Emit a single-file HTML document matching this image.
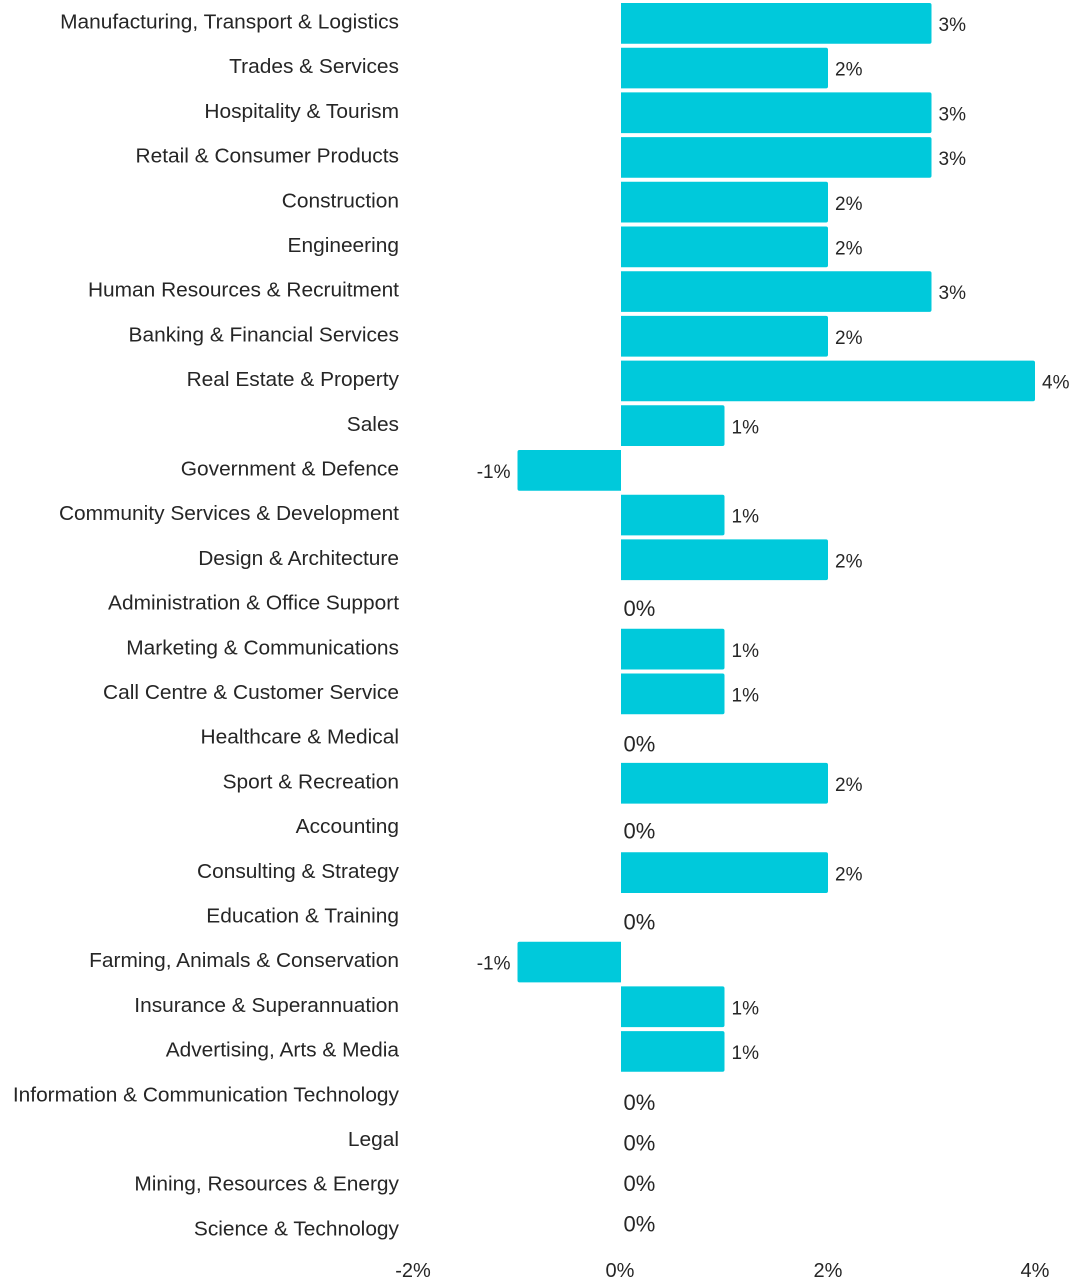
<!DOCTYPE html>
<html>
<head>
<meta charset="utf-8">
<style>
  html, body { margin: 0; padding: 0; background: #ffffff; }
  body { width: 1076px; height: 1280px; overflow: hidden; }
  svg { display: block; }
  text { font-family: "Liberation Sans", Arial, sans-serif; fill: #262626; }
</style>
</head>
<body>
<svg width="1076" height="1280" viewBox="0 0 1076 1280" xmlns="http://www.w3.org/2000/svg">
  <g fill="#00C9DB">
    <path d="M621 3 H929.5 Q931.5 3 931.5 5 V41.7 Q931.5 43.7 929.5 43.7 H621 Z"/>
    <path d="M621 47.7 H826 Q828 47.7 828 49.7 V86.4 Q828 88.4 826 88.4 H621 Z"/>
    <path d="M621 92.4 H929.5 Q931.5 92.4 931.5 94.4 V131.1 Q931.5 133.1 929.5 133.1 H621 Z"/>
    <path d="M621 137.1 H929.5 Q931.5 137.1 931.5 139.1 V175.8 Q931.5 177.8 929.5 177.8 H621 Z"/>
    <path d="M621 181.8 H826 Q828 181.8 828 183.8 V220.5 Q828 222.5 826 222.5 H621 Z"/>
    <path d="M621 226.5 H826 Q828 226.5 828 228.5 V265.2 Q828 267.2 826 267.2 H621 Z"/>
    <path d="M621 271.2 H929.5 Q931.5 271.2 931.5 273.2 V309.9 Q931.5 311.9 929.5 311.9 H621 Z"/>
    <path d="M621 315.9 H826 Q828 315.9 828 317.9 V354.6 Q828 356.6 826 356.6 H621 Z"/>
    <path d="M621 360.6 H1033 Q1035 360.6 1035 362.6 V399.3 Q1035 401.3 1033 401.3 H621 Z"/>
    <path d="M621 405.3 H722.5 Q724.5 405.3 724.5 407.3 V444 Q724.5 446 722.5 446 H621 Z"/>
    <path d="M621 450 H519.5 Q517.5 450 517.5 452 V488.7 Q517.5 490.7 519.5 490.7 H621 Z"/>
    <path d="M621 494.7 H722.5 Q724.5 494.7 724.5 496.7 V533.4 Q724.5 535.4 722.5 535.4 H621 Z"/>
    <path d="M621 539.4 H826 Q828 539.4 828 541.4 V578.1 Q828 580.1 826 580.1 H621 Z"/>
    <path d="M621 628.8 H722.5 Q724.5 628.8 724.5 630.8 V667.5 Q724.5 669.5 722.5 669.5 H621 Z"/>
    <path d="M621 673.5 H722.5 Q724.5 673.5 724.5 675.5 V712.2 Q724.5 714.2 722.5 714.2 H621 Z"/>
    <path d="M621 762.9 H826 Q828 762.9 828 764.9 V801.6 Q828 803.6 826 803.6 H621 Z"/>
    <path d="M621 852.3 H826 Q828 852.3 828 854.3 V891 Q828 893 826 893 H621 Z"/>
    <path d="M621 941.7 H519.5 Q517.5 941.7 517.5 943.7 V980.4 Q517.5 982.4 519.5 982.4 H621 Z"/>
    <path d="M621 986.4 H722.5 Q724.5 986.4 724.5 988.4 V1025.1 Q724.5 1027.1 722.5 1027.1 H621 Z"/>
    <path d="M621 1031.1 H722.5 Q724.5 1031.1 724.5 1033.1 V1069.8 Q724.5 1071.8 722.5 1071.8 H621 Z"/>
  </g>

  <g transform="translate(399 0) scale(1.045 1)" font-size="20" text-anchor="end">
    <text x="0" y="28.5">Manufacturing, Transport &amp; Logistics</text>
    <text x="0" y="73.2">Trades &amp; Services</text>
    <text x="0" y="117.9">Hospitality &amp; Tourism</text>
    <text x="0" y="162.6">Retail &amp; Consumer Products</text>
    <text x="0" y="207.3">Construction</text>
    <text x="0" y="252">Engineering</text>
    <text x="0" y="296.7">Human Resources &amp; Recruitment</text>
    <text x="0" y="341.4">Banking &amp; Financial Services</text>
    <text x="0" y="386.1">Real Estate &amp; Property</text>
    <text x="0" y="430.8">Sales</text>
    <text x="0" y="475.5">Government &amp; Defence</text>
    <text x="0" y="520.2">Community Services &amp; Development</text>
    <text x="0" y="564.9">Design &amp; Architecture</text>
    <text x="0" y="609.6">Administration &amp; Office Support</text>
    <text x="0" y="654.3">Marketing &amp; Communications</text>
    <text x="0" y="699">Call Centre &amp; Customer Service</text>
    <text x="0" y="743.7">Healthcare &amp; Medical</text>
    <text x="0" y="788.4">Sport &amp; Recreation</text>
    <text x="0" y="833.1">Accounting</text>
    <text x="0" y="877.8">Consulting &amp; Strategy</text>
    <text x="0" y="922.5">Education &amp; Training</text>
    <text x="0" y="967.2">Farming, Animals &amp; Conservation</text>
    <text x="0" y="1011.9">Insurance &amp; Superannuation</text>
    <text x="0" y="1056.6">Advertising, Arts &amp; Media</text>
    <text x="0" y="1101.3">Information &amp; Communication Technology</text>
    <text x="0" y="1146">Legal</text>
    <text x="0" y="1190.7">Mining, Resources &amp; Energy</text>
    <text x="0" y="1235.4">Science &amp; Technology</text>
  </g>

  <g font-size="19">
    <text x="938.5" y="31">3%</text>
    <text x="835" y="75.7">2%</text>
    <text x="938.5" y="120.4">3%</text>
    <text x="938.5" y="165.1">3%</text>
    <text x="835" y="209.8">2%</text>
    <text x="835" y="254.5">2%</text>
    <text x="938.5" y="299.2">3%</text>
    <text x="835" y="343.9">2%</text>
    <text x="1042" y="388.6">4%</text>
    <text x="731.5" y="433.3">1%</text>
    <text x="510.5" y="478" text-anchor="end">-1%</text>
    <text x="731.5" y="522.7">1%</text>
    <text x="835" y="567.4">2%</text>
    <text x="731.5" y="656.8">1%</text>
    <text x="731.5" y="701.5">1%</text>
    <text x="835" y="790.9">2%</text>
    <text x="835" y="880.3">2%</text>
    <text x="510.5" y="969.7" text-anchor="end">-1%</text>
    <text x="731.5" y="1014.4">1%</text>
    <text x="731.5" y="1059.1">1%</text>
  </g>

  <g font-size="22">
    <text x="623.5" y="616">0%</text>
    <text x="623.5" y="751.5">0%</text>
    <text x="623.5" y="838.5">0%</text>
    <text x="623.5" y="929.5">0%</text>
    <text x="623.5" y="1110">0%</text>
    <text x="623.5" y="1150.5">0%</text>
    <text x="623.5" y="1191">0%</text>
    <text x="623.5" y="1231.5">0%</text>
  </g>

  <g font-size="20" text-anchor="middle">
    <text x="413" y="1277">-2%</text>
    <text x="620" y="1277">0%</text>
    <text x="828" y="1277">2%</text>
    <text x="1035" y="1277">4%</text>
  </g>
</svg>
</body>
</html>
